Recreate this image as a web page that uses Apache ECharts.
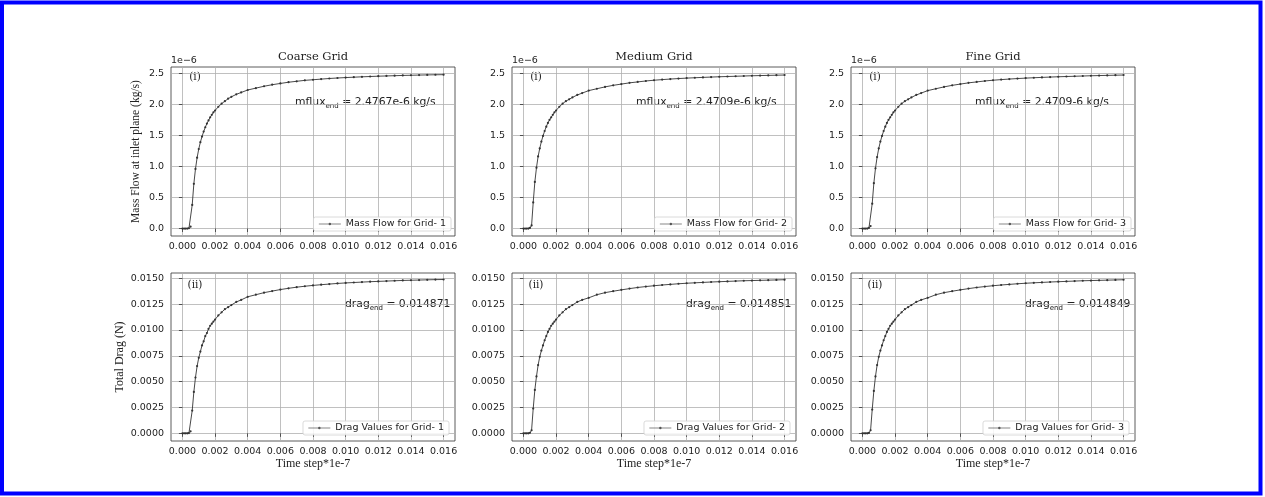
<!DOCTYPE html>
<html><head><meta charset="utf-8">
<script src="https://cdn.jsdelivr.net/npm/echarts@6/dist/echarts.min.js"></script>
<style>html,body{margin:0;padding:0;background:#fff}#c{width:1265px;height:497px}</style>
</head><body><div id="c"></div>
<script>
// ---- data ----
const timeSteps = [0.0000,0.0001,0.0002,0.0003,0.0004,0.0005,0.0006,0.0007,0.0008,0.0009,0.0010,0.0011,0.0012,0.0013,0.0014,0.0015,0.0016,0.0017,0.0018,0.0019,0.0020,0.0022,0.0024,0.0026,0.0028,0.0030,0.0033,0.0036,0.0040,0.0045,0.0050,0.0055,0.0060,0.0065,0.0070,0.0075,0.0080,0.0085,0.0090,0.0095,0.0100,0.0105,0.0110,0.0115,0.0120,0.0125,0.0130,0.0135,0.0140,0.0145,0.0150,0.0155,0.0160];
// mass flow in units of 1e-6 kg/s
const massFlowGrid1 = [0,0,0,0,0.005,0.03,0.38,0.72,0.96,1.14,1.28,1.39,1.48,1.56,1.63,1.69,1.74,1.79,1.83,1.87,1.90,1.96,2.01,2.05,2.09,2.12,2.16,2.19,2.23,2.26,2.29,2.315,2.335,2.355,2.37,2.385,2.395,2.405,2.415,2.423,2.43,2.436,2.442,2.447,2.452,2.456,2.46,2.464,2.467,2.47,2.473,2.475,2.4767];
const massFlowGrid2 = [0,0,0,0,0.01,0.05,0.42,0.75,0.98,1.16,1.29,1.40,1.49,1.57,1.64,1.70,1.75,1.79,1.83,1.87,1.90,1.96,2.01,2.05,2.08,2.11,2.15,2.18,2.22,2.25,2.28,2.305,2.325,2.345,2.36,2.375,2.387,2.397,2.406,2.414,2.421,2.427,2.433,2.438,2.443,2.447,2.451,2.455,2.459,2.462,2.465,2.468,2.4709];
const massFlowGrid3 = [0,0,0,0,0.01,0.04,0.40,0.73,0.97,1.15,1.29,1.40,1.49,1.57,1.64,1.70,1.75,1.79,1.83,1.87,1.90,1.96,2.01,2.05,2.08,2.11,2.15,2.18,2.22,2.25,2.28,2.305,2.325,2.345,2.36,2.375,2.387,2.397,2.406,2.414,2.421,2.427,2.433,2.438,2.443,2.447,2.451,2.455,2.459,2.462,2.465,2.468,2.4709];
const dragGrid1 = [0,0,0,0,0.00003,0.0002,0.0022,0.0040,0.0054,0.0065,0.0073,0.0079,0.0085,0.0089,0.0094,0.0097,0.0101,0.0104,0.0106,0.0108,0.0110,0.0114,0.0117,0.0120,0.0122,0.0124,0.0127,0.0129,0.0132,0.0134,0.0136,0.01375,0.0139,0.01402,0.01413,0.01422,0.0143,0.01437,0.01443,0.01449,0.01454,0.01458,0.01462,0.01466,0.01469,0.01472,0.01475,0.01478,0.0148,0.01482,0.01484,0.01486,0.014871];
const dragGrid2 = [0,0,0,0,0.00005,0.0003,0.0024,0.0042,0.0055,0.0066,0.0074,0.0080,0.0085,0.0090,0.0094,0.0098,0.0101,0.0104,0.0106,0.0108,0.0110,0.0114,0.0117,0.0120,0.0122,0.0124,0.0127,0.0129,0.0131,0.0134,0.0136,0.01374,0.01387,0.01399,0.0141,0.01419,0.01427,0.01434,0.0144,0.01446,0.01451,0.01455,0.01459,0.01463,0.01466,0.01469,0.01472,0.01475,0.01477,0.01479,0.01481,0.01483,0.014851];
const dragGrid3 = [0,0,0,0,0.00004,0.0003,0.0023,0.0041,0.0055,0.0066,0.0074,0.0080,0.0085,0.0090,0.0094,0.0098,0.0101,0.0104,0.0106,0.0108,0.0110,0.0114,0.0117,0.0120,0.0122,0.0124,0.0127,0.0129,0.0131,0.0134,0.0136,0.01374,0.01387,0.01399,0.0141,0.01419,0.01427,0.01434,0.0144,0.01446,0.01451,0.01455,0.01459,0.01463,0.01466,0.01469,0.01472,0.01475,0.01477,0.01479,0.01481,0.01483,0.014849];

const gridTitles = ['Coarse Grid','Medium Grid','Fine Grid'];
const massFlowNames = ['Mass Flow for Grid- 1','Mass Flow for Grid- 2','Mass Flow for Grid- 3'];
const dragNames = ['Drag Values for Grid- 1','Drag Values for Grid- 2','Drag Values for Grid- 3'];
const mfluxEndText = ['2.4767e-6 kg/s','2.4709e-6 kg/s','2.4709-6 kg/s'];
const dragEndText = ['0.014871','0.014851','0.014849'];
const xTicks = [0,0.002,0.004,0.006,0.008,0.010,0.012,0.014,0.016];
const massTicks = [0,0.5,1.0,1.5,2.0,2.5];
const dragTicks = [0,0.0025,0.005,0.0075,0.01,0.0125,0.015];
const yLabelTop = 'Mass Flow at inlet plane (kg/s)';
const yLabelBottom = 'Total Drag (N)';
const xLabel = 'Time step*1e-7';

// ---- layout ----
const panelLeft = [171, 512, 851];
const panelW = 284;
const topY = 67, topH = 169;
const botY = 273, botH = 168;
const W = 1265;
const SANS = 'DejaVu Sans';
const SERIF = 'DejaVu Serif';
const TIMES = 'Liberation Serif';
const TXT = '#222';

const chart = echarts.init(document.getElementById('c'), null, {renderer: 'canvas'});

const grids = [], xAxes = [], yAxes = [], series = [], legends = [], graphics = [];

function xAxisCfg(idx) {
  return {
    type: 'value', gridIndex: idx, min: -0.0007, max: 0.0167,
    axisLine: {show: false},
    axisTick: {show: true, inside: false, length: 3.5, customValues: xTicks, lineStyle: {color: '#333', width: 0.8}},
    axisLabel: {customValues: xTicks, formatter: v => v.toFixed(3), fontFamily: SANS, fontSize: 9.5, color: TXT, margin: 6},
    splitLine: {show: true, lineStyle: {color: '#b0b0b0', width: 0.8}}
  };
}
function yAxisCfg(idx, min, max, ticks, dec) {
  return {
    type: 'value', gridIndex: idx, min: min, max: max,
    axisLine: {show: false},
    axisTick: {show: true, inside: false, length: 3.5, customValues: ticks, lineStyle: {color: '#333', width: 0.8}},
    axisLabel: {customValues: ticks, formatter: v => v.toFixed(dec), fontFamily: SANS, fontSize: 9.5, color: TXT, margin: 7},
    splitLine: {show: true, lineStyle: {color: '#b0b0b0', width: 0.8}}
  };
}
const massSets = [massFlowGrid1, massFlowGrid2, massFlowGrid3];
const dragSets = [dragGrid1, dragGrid2, dragGrid3];

for (let p = 0; p < 3; p++) {
  const L = panelLeft[p];
  const it = p * 2, ib = p * 2 + 1;
  grids.push({left: L, top: topY, width: panelW, height: topH, show: true, borderColor: '#333', borderWidth: 0.8, backgroundColor: 'transparent'});
  grids.push({left: L, top: botY, width: panelW, height: botH, show: true, borderColor: '#333', borderWidth: 0.8, backgroundColor: 'transparent'});
  xAxes.push(xAxisCfg(it)); xAxes.push(xAxisCfg(ib));
  yAxes.push(yAxisCfg(it, -0.12, 2.6, massTicks, 1));
  yAxes.push(yAxisCfg(ib, -0.00074, 0.0155, dragTicks, 4));
  const common = {type: 'line', symbol: 'circle', symbolSize: 2.2, showSymbol: true, showAllSymbol: true,
    lineStyle: {color: '#333', width: 0.9}, itemStyle: {color: '#333'}, animation: false, silent: true, z: 3};
  series.push(Object.assign({}, common, {name: massFlowNames[p], xAxisIndex: it, yAxisIndex: it,
    data: timeSteps.map((t, k) => [t, massSets[p][k]])}));
  series.push(Object.assign({}, common, {name: dragNames[p], xAxisIndex: ib, yAxisIndex: ib,
    data: timeSteps.map((t, k) => [t, dragSets[p][k]])}));
  const legendCommon = {orient: 'horizontal', selectedMode: false, backgroundColor: 'rgba(255,255,255,0.85)',
    borderColor: '#d0d0d0', borderWidth: 0.8, borderRadius: 2, padding: [2, 5, 2, 5],
    itemWidth: 22, itemHeight: 3, lineStyle: {width: 0.7, color: '#555'}, itemStyle: {color: '#555'},
    textStyle: {fontFamily: SANS, fontSize: 9.5, color: TXT}, z: 10};
  legends.push(Object.assign({}, legendCommon, {data: [massFlowNames[p]], right: W - (L + panelW - 4), top: topY + 150}));
  legends.push(Object.assign({}, legendCommon, {data: [dragNames[p]], right: W - (L + panelW - 6), top: botY + 148}));

  graphics.push({type: 'text', x: L + panelW / 2, y: 57, style: {text: gridTitles[p], font: '11.5px ' + SERIF, fill: TXT, textAlign: 'center', textVerticalAlign: 'middle'}});
  graphics.push({type: 'text', x: L, y: 61, style: {text: '1e\u22126', font: '9.5px ' + SANS, fill: TXT, textAlign: 'left', textVerticalAlign: 'middle'}});
  graphics.push({type: 'text', x: L + 24, y: 77, style: {text: '(i)', font: '10.5px ' + SERIF, fill: TXT, textAlign: 'center', textVerticalAlign: 'middle'}});
  graphics.push({type: 'text', x: L + 24, y: 285, style: {text: '(ii)', font: '10.5px ' + SERIF, fill: TXT, textAlign: 'center', textVerticalAlign: 'middle'}});
  const rich = {
    a: {fontFamily: SANS, fontSize: 10.8, lineHeight: 14, fill: TXT},
    s: {fontFamily: SANS, fontSize: 7, lineHeight: 15, verticalAlign: 'bottom', fill: TXT}
  };
  graphics.push({type: 'text', x: L + 124, y: 102, style: {text: '{a|mflux}{s|end}{a| = ' + mfluxEndText[p] + '}', rich: rich, textAlign: 'left', textVerticalAlign: 'middle'}});
  graphics.push({type: 'text', x: L + 174, y: 304, style: {text: '{a|drag}{s|end}{a| = ' + dragEndText[p] + '}', rich: rich, textAlign: 'left', textVerticalAlign: 'middle'}});
  graphics.push({type: 'text', x: L + panelW / 2, y: 464, style: {text: xLabel, font: '12px ' + TIMES, fill: TXT, textAlign: 'center', textVerticalAlign: 'middle'}});
}
graphics.push({type: 'text', x: 136, y: topY + topH / 2, rotation: Math.PI / 2, style: {text: yLabelTop, font: '11.5px ' + TIMES, fill: TXT, textAlign: 'center', textVerticalAlign: 'middle'}});
graphics.push({type: 'text', x: 120, y: botY + botH / 2, rotation: Math.PI / 2, style: {text: yLabelBottom, font: '12px ' + TIMES, fill: TXT, textAlign: 'center', textVerticalAlign: 'middle'}});
graphics.push({type: 'rect', shape: {x: 2, y: 2.5, width: 1258.5, height: 491}, style: {fill: 'none', stroke: '#0000ff', lineWidth: 4}, z: 100});

chart.setOption({
  animation: false,
  backgroundColor: '#fff',
  grid: grids, xAxis: xAxes, yAxis: yAxes, series: series, legend: legends,
  graphic: {elements: graphics}
});
</script></body></html>
